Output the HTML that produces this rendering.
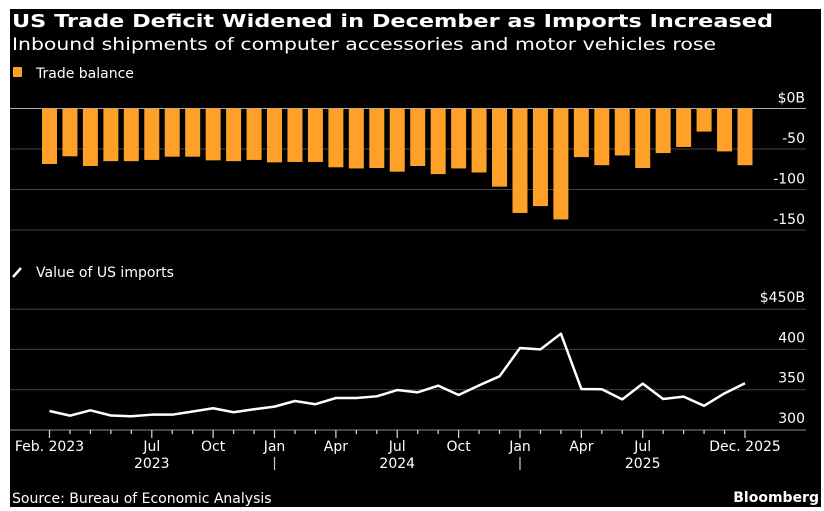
<!DOCTYPE html>
<html><head><meta charset="utf-8"><style>
html,body{margin:0;padding:0;background:#fff;}
svg{display:block;}
text{font-family:"DejaVu Sans","Liberation Sans",sans-serif;fill:#fff;}
</style></head><body>
<svg id="chart" width="824" height="511" viewBox="0 0 824 511" xmlns="http://www.w3.org/2000/svg">
<rect x="10" y="9" width="811" height="498" fill="#000"/>
<text x="12" y="27" font-size="18" font-weight="bold" textLength="761" lengthAdjust="spacingAndGlyphs">US Trade Deficit Widened in December as Imports Increased</text>
<text x="12" y="50" font-size="17" textLength="704" lengthAdjust="spacingAndGlyphs">Inbound shipments of computer accessories and motor vehicles rose</text>
<rect x="13" y="67" width="9" height="10" rx="1" fill="#ffa028"/>
<text x="36" y="78" font-size="14">Trade balance</text>
<line x1="13" y1="277" x2="21" y2="268" stroke="#fff" stroke-width="2.5"/>
<text x="36" y="277" font-size="14">Value of US imports</text>
<text x="12" y="503" font-size="14">Source: Bureau of Economic Analysis</text>
<text x="819" y="502" font-size="14" font-weight="bold" text-anchor="end">Bloomberg</text>
<g id="bars"></g>
<g id="line"></g>
<g id="xaxis"></g>
</svg>
<script>
const months = ["Feb","Mar","Apr","May","Jun","Jul","Aug","Sep","Oct","Nov","Dec","Jan","Feb","Mar","Apr","May","Jun","Jul","Aug","Sep","Oct","Nov","Dec","Jan","Feb","Mar","Apr","May","Jun","Jul","Aug","Sep","Oct","Nov","Dec"];
const tradeBalance = [-68.5,-59,-71,-65,-65,-63.5,-59.5,-59.5,-64,-65,-63.5,-66.5,-66,-66,-72.6,-74,-73.5,-78,-71,-81,-74,-79,-96.5,-129,-120.5,-137,-60,-70,-58,-73.5,-55,-47.5,-28.5,-53,-70];
const imports = [323.6,317.8,324.4,318,317,319,319,323,327,322,325.7,329,336,332,339.7,339.7,341.8,349.6,346.7,355,343.4,355.4,366.6,401.7,400,419.5,350.9,350.5,338,357.5,338.4,341.4,330,345.5,358];
const barTicks = [0,-50,-100,-150];
const barTickLabels = ["$0B","-50","-100","-150"];
const lineTicks = [450,400,350,300];
const lineTickLabels = ["$450B","400","350","300"];
const xLabels = [[0,"Feb. 2023"],[5,"Jul"],[8,"Oct"],[11,"Jan"],[14,"Apr"],[17,"Jul"],[20,"Oct"],[23,"Jan"],[26,"Apr"],[29,"Jul"],[34,"Dec. 2025"]];
const yearLabels = [[5,"2023"],[17,"2024"],[29,"2025"]];
const yearSeps = [11,23];

const NS="http://www.w3.org/2000/svg";
function mk(tag,attrs,parent,txt){const e=document.createElementNS(NS,tag);for(const k in attrs)e.setAttribute(k,attrs[k]);if(txt!==undefined)e.textContent=txt;parent.appendChild(e);return e;}
const x0=49.5, x1=745;
function xs(i){return x0+(x1-x0)*i/(months.length-1);}
function yBar(v){return 108.5+(0-v)*40.5/50;}
function yLine(v){return 430-(v-300)*40.3/50;}
const gB=document.getElementById('bars'), gL=document.getElementById('line'), gX=document.getElementById('xaxis');
barTicks.forEach((t,i)=>{
  const g=mk('line',{x1:10,x2:806,y1:yBar(t),y2:yBar(t),stroke:t===0?'#aaa':'#444','stroke-width':1},gB);
  
  
  const l=mk('text',{x:805,y:yBar(t)-6,'font-size':14,'text-anchor':'end'},gB,barTickLabels[i]);
  
  
});
tradeBalance.forEach((v,i)=>{
  const r=mk('rect',{x:xs(i)-7.5,y:yBar(0),width:15,height:yBar(v)-yBar(0),fill:'#ffa028'},gB);
  
  
});
lineTicks.forEach((t,i)=>{
  const g=mk('line',{x1:10,x2:806,y1:yLine(t),y2:yLine(t),stroke:t===300?'#888':'#444','stroke-width':1},gL);
  
  
  const l=mk('text',{x:805,y:yLine(t)-7,'font-size':14,'text-anchor':'end'},gL,lineTickLabels[i]);
  
  
});
const p=mk('polyline',{points:imports.map((v,i)=>xs(i)+','+yLine(v)).join(' '),fill:'none',stroke:'#fff','stroke-width':2.5,'stroke-linejoin':'round'},gL);


const major=new Set(xLabels.map(d=>d[0]));
months.forEach((m,i)=>{
  const t=mk('line',{x1:xs(i),x2:xs(i),y1:430,y2:major.has(i)?438:434,stroke:'#ccc','stroke-width':1.3},gX);
  
  
});
xLabels.forEach(d=>{
  const l=mk('text',{x:xs(d[0]),y:451,'font-size':14,'text-anchor':'middle'},gX,d[1]);
  
  
});
yearLabels.forEach(d=>{
  const l=mk('text',{x:xs(d[0]),y:468,'font-size':14,'text-anchor':'middle',fill:'#ccc'},gX,d[1]);
  
  
});
yearSeps.forEach(i=>{
  const s=mk('line',{x1:xs(i),x2:xs(i),y1:457,y2:470,stroke:'#ccc','stroke-width':1.2},gX);
  
  
});
</script>
</body></html>
